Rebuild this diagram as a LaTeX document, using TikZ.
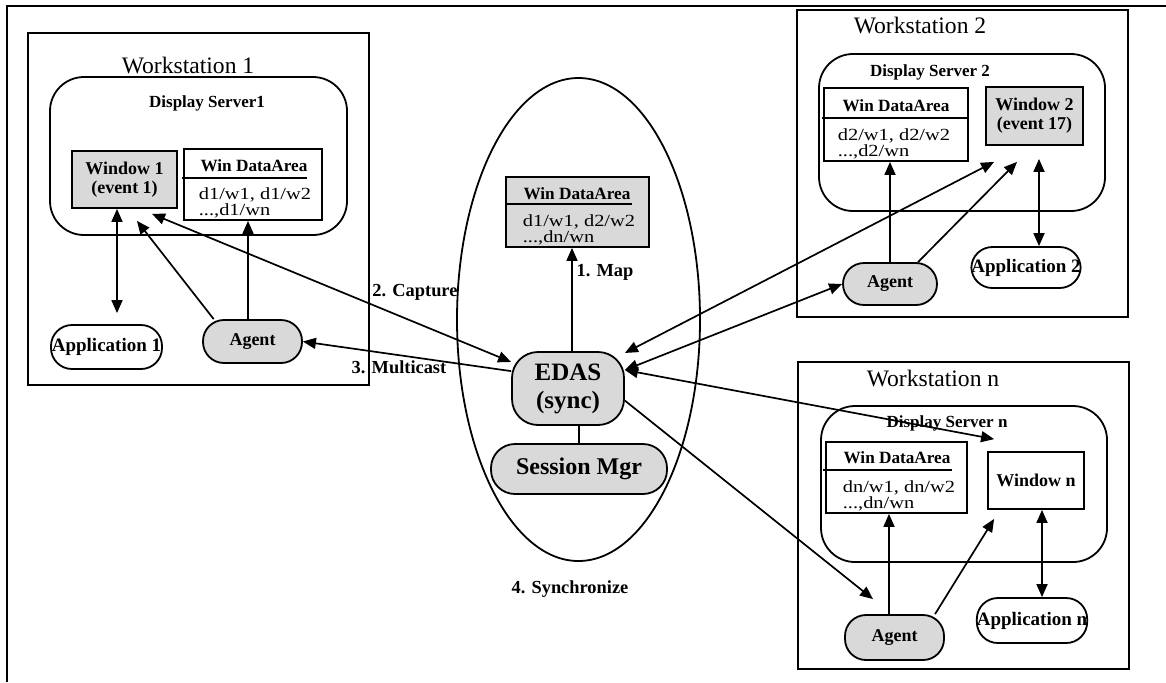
\documentclass[tikz,border=0pt]{standalone}
\usepackage{fontspec}
\setmainfont{Liberation Serif}
\newfontfamily\widefont[FakeStretch=1.2]{Liberation Serif}
\usetikzlibrary{arrows.meta,shapes.geometric}

\begin{document}
\begin{tikzpicture}[x=0.5pt,y=-0.5pt,line width=0.85pt,>={Triangle[length=6.5pt,width=5.5pt]}]
  \tikzstyle{wsbox}=[rectangle,draw,line width=1pt,inner sep=0pt]
  \tikzstyle{server}=[rectangle,draw,line width=0.9pt,rounded corners=17pt,inner sep=0pt]
  \tikzstyle{win}=[rectangle,draw,line width=0.9pt,fill=black!15,align=center,
                   inner sep=0pt,font=\bfseries\fontsize{9}{9.5}\selectfont]
  \tikzstyle{area}=[rectangle,draw,line width=0.9pt,inner sep=0pt]
  \tikzstyle{head}=[inner sep=0pt,font=\bfseries\fontsize{8.6}{10}\selectfont]
  \tikzstyle{entry}=[anchor=base west,inner sep=0pt,font=\widefont\fontsize{8.5}{9}\selectfont]
  \tikzstyle{app}=[rectangle,draw,line width=0.9pt,rounded corners=10.5pt,inner sep=0pt,
                   font=\bfseries\fontsize{9.5}{10}\selectfont]
  \tikzstyle{agent}=[app,fill=black!15,font=\bfseries\fontsize{9}{10}\selectfont]
  \tikzstyle{title}=[inner sep=0pt,font=\fontsize{11.8}{13}\selectfont]
  \tikzstyle{srvname}=[inner sep=0pt,font=\bfseries\fontsize{8.5}{10}\selectfont]
  \tikzstyle{phase}=[inner sep=0pt,font=\bfseries\fontsize{9.2}{10}\selectfont]

  \useasboundingbox (0,0) rectangle (1166,682);
  \draw[line width=1pt] (7,682) -- (7,6) -- (1166,6);

  % workstation 1
  \begin{scope}
    \node[wsbox,minimum width=170.5pt,minimum height=176pt] (ws1) at (198.5,209) {};
    \node[title] at (188,65) {Workstation 1};
    \node[server,minimum width=148.5pt,minimum height=79pt] (ds1) at (198.5,156) {};
    \node[srvname] at (207,103) {Display Server1};
    \node[win,minimum width=52.5pt,minimum height=28.5pt] (win1) at (124.5,179.5) {Window 1\\(event 1)};
    \node[area,minimum width=69pt,minimum height=35.5pt] (da1) at (253,184.5) {};
    \node[head] at (254,166) {Win DataArea};
    \draw (182,178) -- (307,178);
    \node[entry] at (198,199) {d1/w1, d1/w2};
    \node[entry] at (198,215) {...,d1/wn};
    \node[app,minimum width=55.5pt,minimum height=22pt] (app1) at (106.5,347) {Application 1};
    \node[agent,minimum width=49.5pt,minimum height=21.5pt] (ag1) at (252.5,341.5) {Agent};
  \end{scope}

  % EDAS
  \begin{scope}
    \node[ellipse,draw,line width=0.9pt,minimum width=121.5pt,minimum height=241.5pt] (hub) at (578.5,319.5) {};
    \node[area,fill=black!15,minimum width=71.5pt,minimum height=35pt] (dac) at (577.5,212) {};
    \node[head] at (577,194) {Win DataArea};
    \draw (505,204) -- (632,204);
    \node[entry] at (522,226) {d1/w1, d2/w2};
    \node[entry] at (522,242) {...,dn/wn};
    \node[rectangle,draw,line width=0.9pt,rounded corners=13pt,fill=black!15,align=center,inner sep=0pt,
          minimum width=56pt,minimum height=36.5pt,font=\bfseries\fontsize{12.5}{14}\selectfont]
          (edas) at (568,388.5) {EDAS\\(sync)};
    \node[app,fill=black!15,rounded corners=12pt,minimum width=88pt,minimum height=25pt,
          font=\bfseries\fontsize{12}{13}\selectfont] (smgr) at (579,469) {Session Mgr};
  \end{scope}

  % workstation 2
  \begin{scope}
    \node[wsbox,minimum width=165.5pt,minimum height=153.5pt] (ws2) at (962.5,163.5) {};
    \node[title] at (920,25) {Workstation 2};
    \node[server,minimum width=143pt,minimum height=78.5pt] (ds2) at (962,132.5) {};
    \node[srvname] at (930,72) {Display Server 2};
    \node[area,minimum width=72pt,minimum height=36.5pt] (da2) at (896,124.5) {};
    \node[head] at (896,106) {Win DataArea};
    \draw (822,118) -- (968,118);
    \node[entry] at (837,140) {d2/w1, d2/w2};
    \node[entry] at (837,156) {...,d2/wn};
    \node[win,minimum width=48.5pt,minimum height=29pt] (win2) at (1034.5,116) {Window 2\\(event 17)};
    \node[agent,minimum width=47pt,minimum height=21pt] (ag2) at (890,284) {Agent};
    \node[app,minimum width=54pt,minimum height=20.5pt] (app2) at (1026,267.5) {Application 2};
  \end{scope}

  % workstation n
  \begin{scope}
    \node[wsbox,minimum width=165.5pt,minimum height=153.5pt] (wsn) at (963.5,515.5) {};
    \node[title] at (933,378) {Workstation n};
    \node[server,minimum width=143pt,minimum height=78pt] (dsn) at (964,484) {};
    \node[srvname] at (947,423) {Display Server n};
    \node[area,minimum width=70.5pt,minimum height=35.5pt] (dan) at (896.5,477.5) {};
    \node[head] at (897,458) {Win DataArea};
    \draw (823,470) -- (952,470);
    \node[entry] at (842,492) {dn/w1, dn/w2};
    \node[entry] at (842,508) {...,dn/wn};
    \node[win,fill=none,minimum width=48pt,minimum height=28.5pt] (winn) at (1036,480.5) {Window n};
    \node[agent,minimum width=49.5pt,minimum height=22.5pt] (agn) at (894.5,637.5) {Agent};
    \node[app,minimum width=55pt,minimum height=22.5pt] (appn) at (1032,620.5) {Application n};
  \end{scope}

  \node[phase] at (605,272) {1. Map};
  \node[phase] at (415,292) {2. Capture};
  \node[phase] at (399,367) {3. Multicast};
  \node[phase] at (570,589) {4. Synchronize};

  % links inside workstation 1
  \draw[<->,shorten >=5.5pt] ([xshift=-3.75pt]win1.south) -- ([xshift=-3.75pt]win1.south |- app1.north);
  \draw[->] (ag1.150) -- ([xshift=6.25pt,yshift=-6pt]win1.south);
  \draw[->] ([xshift=-2.25pt]ag1.north) -- ([xshift=-2.25pt]ag1.north |- da1.south);

  % links to EDAS
  \draw[<->] ([xshift=13.75pt,yshift=-2.5pt]win1.south) -- (edas.155);
  \draw[->] (edas.163) -- (ag1.east);
  \draw[->] ([xshift=2pt]edas.north) -- ([xshift=2pt]edas.north |- dac.south);
  \draw (edas.south -| smgr.north) -- (smgr.north);
  \draw[<->] (edas.32) -- ([xshift=4.5pt,yshift=-8pt]win2.south west);
  \draw[<->] (edas.18) -- (ag2.west);
  \draw[<->] (edas.18) -- ([xshift=3.5pt,yshift=6pt]winn.north west);
  \draw[->] (edas.-12) -- ([xshift=-10.75pt,yshift=7.5pt]agn.north);

  % links inside workstation 2
  \draw[->] (ag2.north) -- (ag2.north |- da2.south);
  \draw[->] (ag2.38) -- ([xshift=-8.75pt,yshift=-8pt]win2.south);
  \draw[<->,shorten <=6.5pt] ([xshift=2.25pt]win2.south) -- ([xshift=2.25pt]win2.south |- app2.north);

  % links inside workstation n
  \draw[->] ([xshift=-2.75pt]agn.north) -- ([xshift=-2.75pt]agn.north |- dan.south);
  \draw[->] (agn.30) -- ([xshift=3.5pt,yshift=-4.5pt]winn.south west);
  \draw[<->] ([xshift=3pt]winn.south) -- ([xshift=3pt]winn.south |- appn.north);
\end{tikzpicture}
\end{document}
